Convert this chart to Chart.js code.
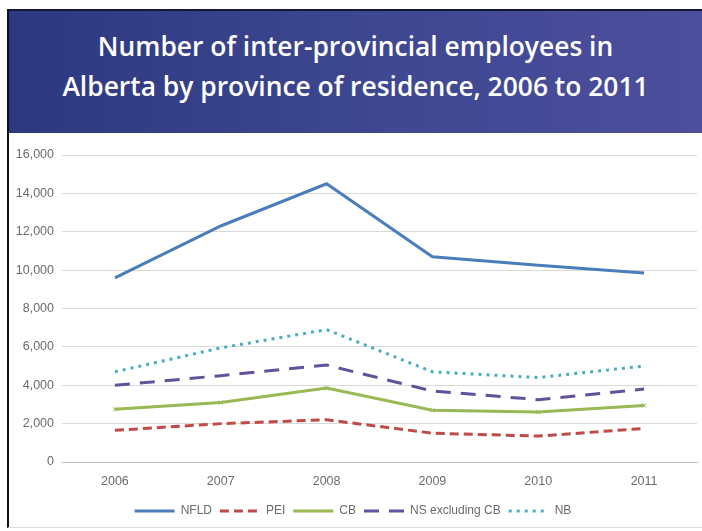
<!DOCTYPE html>
<html>
<head>
<meta charset="utf-8">
<title>Inter-provincial employees in Alberta</title>
<script src="https://cdn.jsdelivr.net/npm/chart.js@4.4.1/dist/chart.umd.min.js"></script>
<style>
  html, body { margin: 0; padding: 0; background: #fff; }
  .frame {
    position: absolute; left: 7px; top: 9px; width: 695px; height: 519px;
    border-left: 2px solid #111; border-bottom: 1px solid #ddd; box-sizing: border-box;
  }
  .banner {
    height: 124px;
    background: linear-gradient(to right, #2c3880, #3d4790 50%, #4d4e9d);
    border-top: 2px solid #141838;
    box-sizing: border-box;
    color: #fff;
    text-align: center;
    font-family: "Open Sans", sans-serif;
    font-weight: 600;
    font-size: 26.4px;
    line-height: 40px;
    padding-top: 15px;
  }
  .chart-box { position: relative; width: 693px; height: 394px; }
</style>
</head>
<body>
<div class="frame">
  <div class="banner">Number of inter-provincial employees in<br>Alberta by province of residence, 2006 to 2011</div>
  <div class="chart-box"><canvas id="chart"></canvas></div>
</div>
<script>
  const years = ['2006', '2007', '2008', '2009', '2010', '2011'];
  const nfld = [9600, 12300, 14500, 10700, 10250, 9850];
  const pei = [1650, 2000, 2200, 1500, 1350, 1750];
  const cb = [2750, 3100, 3850, 2700, 2600, 2950];
  const nsExclCb = [4000, 4500, 5050, 3700, 3250, 3800];
  const nb = [4700, 5950, 6900, 4700, 4400, 5000];

  const tickFont = { family: 'Liberation Sans', size: 12.5 };
  const textGrey = '#6b6b6b';

  const makeSeries = (label, data, color, dash, extra) => Object.assign({
    label,
    data,
    borderColor: color,
    backgroundColor: color,
    borderWidth: 3,
    borderDash: dash,
    borderCapStyle: 'butt',
    pointRadius: 0,
    tension: 0,
  }, extra || {});

  const ctx = document.getElementById('chart').getContext('2d');
  new Chart(ctx, {
    type: 'line',
    data: {
      labels: years,
      datasets: [
        makeSeries('NFLD', nfld, '#4a7ebb', []),
        makeSeries('PEI', pei, '#be4b48', [9, 5]),
        makeSeries('CB', cb, '#98b954', [], { pointRadius: 3, pointStyle: 'crossRot', pointBorderWidth: 1 }),
        makeSeries('NS excluding CB', nsExclCb, '#63529a', [15, 10]),
        makeSeries('NB', nb, '#4bacc6', [3, 5]),
      ],
    },
    options: {
      responsive: true,
      maintainAspectRatio: false,
      animation: false,
      layout: { padding: { top: 22, right: 5, left: 0, bottom: 0 } },
      plugins: {
        tooltip: { enabled: false },
        legend: {
          position: 'bottom',
          labels: {
            usePointStyle: true,
            pointStyle: 'line',
            pointStyleWidth: 40,
            boxHeight: 10,
            padding: 8,
            color: textGrey,
            font: { family: 'Liberation Sans', size: 12 },
            generateLabels(chart) {
              return chart.data.datasets.map((ds, i) => ({
                text: ds.label,
                datasetIndex: i,
                strokeStyle: ds.borderColor,
                fillStyle: ds.borderColor,
                lineWidth: 3,
                lineDash: ds.borderDash,
                pointStyle: 'line',
                fontColor: textGrey,
              }));
            },
          },
        },
      },
      scales: {
        x: {
          offset: true,
          afterFit(scale) { scale.height -= 4; },
          grid: { display: false, drawTicks: false },
          border: { color: '#bfbfbf', width: 1 },
          ticks: { color: textGrey, padding: 12, font: tickFont },
        },
        y: {
          min: 0,
          max: 16000,
          afterFit(scale) { scale.width = 53; },
          grid: { color: '#d9d9d9', lineWidth: 1, drawTicks: false },
          border: { display: false },
          ticks: {
            stepSize: 2000,
            padding: 8,
            color: textGrey,
            font: tickFont,
            callback: (v) => v.toLocaleString('en-US'),
          },
        },
      },
    },
  });
</script>
</body>
</html>
